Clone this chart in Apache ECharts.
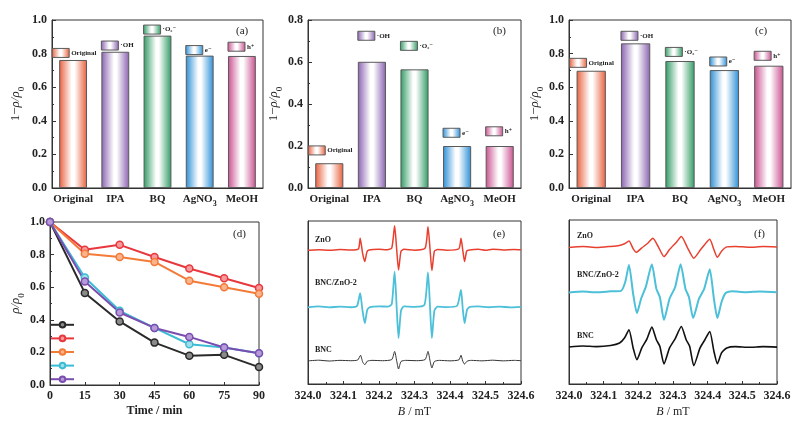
<!DOCTYPE html>
<html>
<head>
<meta charset="utf-8">
<script src="https://cdn.jsdelivr.net/npm/echarts@6/dist/echarts.min.js"></script>
<style>
  html, body { margin: 0; padding: 0; background: #fff; }
  #main { width: 809px; height: 426px; }
</style>
</head>
<body>
<div id="main"></div>
<script>
// bar panels (a)-(c)
const categories = ["Original", "IPA", "BQ", "AgNO3", "MeOH"];
const boxLabels = ["Original", "·OH", "·O₂⁻", "e⁻", "h⁺"];
const valuesA = [0.762, 0.811, 0.907, 0.788, 0.786];
const valuesB = [0.118, 0.601, 0.565, 0.2, 0.2];
const valuesC = [0.698, 0.861, 0.756, 0.702, 0.728];
// where the little legend boxes sit (y value of box centre)
const boxA = [0.804, 0.848, 0.943, 0.821, 0.841];
const boxB = [0.179, 0.725, 0.677, 0.263, 0.27];
const boxC = [0.745, 0.906, 0.81, 0.753, 0.787];

// panel (d): rho/rho0 vs time
const times = [0, 15, 30, 45, 60, 75, 90];
const lineBlack = [1.0, 0.565, 0.39, 0.26, 0.18, 0.185, 0.11];
const lineRed = [1.0, 0.83, 0.86, 0.785, 0.715, 0.655, 0.595];
const lineOrange = [1.0, 0.805, 0.785, 0.755, 0.64, 0.6, 0.56];
const lineCyan = [1.0, 0.66, 0.455, 0.35, 0.25, 0.23, 0.195];
const linePurple = [1.0, 0.635, 0.445, 0.35, 0.295, 0.23, 0.195];

// panel (e): EPR, DMPO-OH, [B (mT), intensity (a.u.)]
const eZnO = [[324.0,82.0],[324.03,82.4],[324.06,82.0],[324.09,82.5],[324.12,82.2],[324.142,82.8],[324.147,89.4],[324.154,80],[324.16,75.1],[324.166,81],[324.172,82.2],[324.2,82.6],[324.22,82.3],[324.236,83.5],[324.244,97.1],[324.25,82],[324.255,70],[324.262,81.5],[324.27,82.6],[324.3,82.1],[324.33,83.4],[324.338,96.5],[324.344,82],[324.349,69.6],[324.356,81.5],[324.365,82.5],[324.39,82.1],[324.425,83],[324.431,89.4],[324.436,82],[324.441,75.1],[324.447,81.5],[324.455,82.2],[324.48,82.6],[324.5,82.0],[324.52,82.7],[324.55,82.2],[324.58,82.5],[324.6,82.3]];
const eBNCZnO = [[324.0,47.0],[324.03,47.6],[324.06,47.0],[324.09,47.5],[324.12,47.1],[324.138,47.8],[324.147,55.7],[324.153,46],[324.16,37.3],[324.167,45.5],[324.175,47.2],[324.2,47.6],[324.225,47.5],[324.236,49],[324.244,69],[324.25,46],[324.255,28.2],[324.262,45],[324.27,47.6],[324.3,47.3],[324.328,48.5],[324.338,68.4],[324.344,46],[324.349,28.2],[324.356,45],[324.365,47.5],[324.39,47.2],[324.42,48],[324.431,57.8],[324.436,46],[324.441,37.3],[324.448,45.5],[324.456,47.3],[324.48,47.6],[324.51,47.1],[324.54,47.5],[324.57,47.0],[324.6,47.3]];
const eBNC = [[324.0,14.2],[324.03,14.6],[324.06,14.1],[324.09,14.5],[324.12,14.3],[324.14,14.7],[324.148,17.6],[324.154,13.5],[324.16,11.8],[324.167,14],[324.18,14.5],[324.21,14.3],[324.236,15],[324.244,20],[324.25,14],[324.255,9.2],[324.262,13.8],[324.275,14.5],[324.305,14.3],[324.33,15],[324.338,20],[324.344,14],[324.349,9.8],[324.356,13.8],[324.37,14.5],[324.4,14.2],[324.425,14.8],[324.431,17.6],[324.436,14],[324.441,12.2],[324.448,14],[324.46,14.5],[324.49,14.2],[324.52,14.6],[324.55,14.2],[324.58,14.5],[324.6,14.3]];

// panel (f): EPR, DMPO-O2-
const fZnO = [[324.0,83.3],[324.04,83.8],[324.08,83.2],[324.12,83.9],[324.145,84.5],[324.16,85.5],[324.173,87.2],[324.185,82.5],[324.194,80.3],[324.21,83],[324.228,86],[324.242,88.8],[324.258,83.5],[324.274,77.7],[324.29,82],[324.31,86.5],[324.324,89.9],[324.342,83],[324.36,76.7],[324.38,82],[324.395,86],[324.406,88.2],[324.418,82],[324.428,77.3],[324.44,81],[324.455,83.6],[324.48,83.9],[324.52,83.4],[324.56,83.8],[324.6,83.5]];
const fBNCZnO = [[324.0,55.8],[324.04,56.4],[324.08,55.9],[324.12,56.5],[324.15,56.8],[324.162,62],[324.173,72.6],[324.185,55],[324.196,43.2],[324.208,52],[324.222,59.5],[324.239,73],[324.252,58],[324.262,53],[324.274,39.1],[324.29,52],[324.306,59],[324.322,73],[324.336,58],[324.346,53],[324.358,40.2],[324.375,52],[324.39,58],[324.406,70],[324.418,52],[324.428,40.2],[324.44,50],[324.452,55.5],[324.47,56.5],[324.51,56],[324.55,56.4],[324.6,56]];
const fBNC = [[324.0,22.6],[324.04,23.2],[324.08,22.8],[324.12,23.5],[324.146,25],[324.16,28],[324.173,33.1],[324.185,22],[324.196,14.8],[324.21,22],[324.225,27.5],[324.239,34.7],[324.252,27],[324.262,23],[324.274,12.2],[324.29,22],[324.306,27.5],[324.324,35.1],[324.338,27],[324.348,23],[324.36,11.2],[324.378,22],[324.392,27],[324.406,32],[324.418,20],[324.428,12.4],[324.44,19],[324.455,22],[324.48,22.8],[324.52,22.4],[324.56,22.8],[324.6,22.5]];

const serif = '"Liberation Serif", "DejaVu Serif", serif';
const barColors = ["#e8603c", "#8a62b0", "#2f9b63", "#2c8fd6", "#c9508f"];
const txt = "#222";

function barGrad(c) {
  return new echarts.graphic.LinearGradient(0, 0, 1, 0, [
    { offset: 0, color: c },
    { offset: 0.45, color: "#ffffff" },
    { offset: 0.55, color: "#ffffff" },
    { offset: 1, color: c }
  ]);
}

const subRich = {
  s: { fontSize: 8, fontFamily: serif, fontWeight: "bold", color: txt, verticalAlign: "bottom", lineHeight: 8, padding: [0, 0, -3, 0] }
};

function catAxis(g) {
  return {
    type: "category", gridIndex: g, data: categories,
    axisLine: { lineStyle: { color: "#333" } },
    axisTick: { inside: true, alignWithLabel: true, length: 3, lineStyle: { color: "#333" } },
    axisLabel: {
      interval: 0, hideOverlap: false,
      color: txt, fontFamily: serif, fontWeight: "bold", fontSize: 11, margin: 6,
      formatter: v => v === "AgNO3" ? "AgNO{s|3}" : v,
      rich: subRich
    }
  };
}

const yNameRich = {
  t: { fontSize: 13, fontFamily: serif, color: txt },
  i: { fontSize: 13, fontFamily: serif, fontStyle: "italic", color: txt },
  s: { fontSize: 9, fontFamily: serif, color: txt, verticalAlign: "bottom", lineHeight: 9, padding: [0, 0, -4, 0] }
};

function valAxisY(g, max, name, gap) {
  return {
    type: "value", gridIndex: g, min: 0, max: max, interval: 0.2,
    name: name, nameLocation: "middle", nameGap: gap,
    nameTextStyle: { rich: yNameRich },
    axisLine: { show: true, lineStyle: { color: "#333" } },
    axisTick: { show: true, inside: true, length: 4, lineStyle: { color: "#333" } },
    minorTick: { show: true, splitNumber: 2, length: 2, lineStyle: { color: "#333" } },
    splitLine: { show: false },
    axisLabel: { color: txt, fontFamily: serif, fontWeight: "bold", fontSize: 12, margin: 5, formatter: v => v.toFixed(1) }
  };
}

function eprX(g) {
  return {
    type: "value", gridIndex: g, min: 324.0, max: 324.6, interval: 0.1,
    name: "{i|B} / mT", nameLocation: "middle", nameGap: 22,
    nameTextStyle: { rich: {
      i: { fontSize: 12, fontFamily: serif, fontStyle: "italic", color: txt },
      t: { fontSize: 12, fontFamily: serif, color: txt }
    }, fontSize: 12, fontFamily: serif, color: txt },
    axisLine: { lineStyle: { color: "#333" } },
    axisTick: { inside: true, length: 3, lineStyle: { color: "#333" } },
    minorTick: { show: true, splitNumber: 2, length: 2, lineStyle: { color: "#333" } },
    splitLine: { show: false },
    axisLabel: { color: txt, fontFamily: serif, fontWeight: "bold", fontSize: 12, margin: 6, formatter: v => v.toFixed(1) }
  };
}

function eprY(g) {
  return {
    type: "value", gridIndex: g, min: 0, max: 100,
    axisLine: { show: true, lineStyle: { color: "#333" } },
    axisTick: { show: false }, axisLabel: { show: false }, splitLine: { show: false }
  };
}

function barSeries(g, vals) {
  return {
    type: "bar", xAxisIndex: g, yAxisIndex: g, barWidth: "66%",
    data: vals.map((v, i) => ({
      value: v,
      itemStyle: { color: barGrad(barColors[i]), borderColor: "#5a5a5a", borderWidth: 1 }
    }))
  };
}

function boxSeries(g, boxes) {
  return {
    type: "custom", xAxisIndex: g, yAxisIndex: g, z: 5,
    data: boxes.map((v, i) => [i, v]),
    renderItem: (params, api) => {
      const idx = api.value(0);
      const p = api.coord([idx, api.value(1)]);
      const bw = api.size([1, 0])[0] * 0.66;
      const x0 = p[0] - bw / 2 - (idx === 0 ? 7 : 0);
      return {
        type: "group",
        children: [
          { type: "rect", shape: { x: x0, y: p[1] - 4.5, width: 17, height: 9 },
            style: { fill: barGrad(barColors[idx]), stroke: "#5a5a5a", lineWidth: 1 } },
          { type: "text", style: { x: x0 + 19, y: p[1], text: boxLabels[idx], verticalAlign: "middle",
            font: 'bold 7px "Liberation Serif", "DejaVu Serif", serif', fill: txt } }
        ]
      };
    }
  };
}

const lineColors = ["#2a2a2a", "#e8383d", "#f47a38", "#3cbcd4", "#7a4db0"];
const lineFills = ["#8a8a8a", "#f59a9c", "#f9b48c", "#9ee0ea", "#b79ad8"];
const lineSets = [lineBlack, lineRed, lineOrange, lineCyan, linePurple];
const lineNames = ["L1", "L2", "L3", "L4", "L5"];

function lineSeries(i) {
  return {
    type: "line", name: lineNames[i], xAxisIndex: 3, yAxisIndex: 3,
    data: times.map((t, k) => [t, lineSets[i][k]]),
    symbol: "circle", symbolSize: 7,
    lineStyle: { color: lineColors[i], width: 2 },
    itemStyle: { color: lineFills[i], borderColor: lineColors[i], borderWidth: 1.5 }
  };
}

function eprSeries(g, data, color, width) {
  return {
    type: "line", xAxisIndex: g, yAxisIndex: g, data: data, symbol: "none",
    smooth: 0.2, lineStyle: { color: color, width: width }
  };
}

function label(x, y, text, size, weight) {
  return { type: "text", left: x, top: y,
    style: { text: text, fill: txt, font: (weight || "normal") + " " + size + "px " + serif } };
}

const gridBase = { show: true, borderColor: "#333", borderWidth: 1, backgroundColor: "transparent" };

const option = {
  animation: false,
  grid: [
    Object.assign({ left: 52, top: 20, width: 211, height: 168 }, gridBase),
    Object.assign({ left: 308, top: 20, width: 213, height: 168 }, gridBase),
    Object.assign({ left: 569, top: 20, width: 222, height: 168 }, gridBase),
    Object.assign({ left: 50, top: 222, width: 209, height: 163 }, gridBase),
    Object.assign({ left: 308, top: 221, width: 213, height: 163 }, gridBase),
    Object.assign({ left: 569, top: 220, width: 208, height: 164 }, gridBase)
  ],
  xAxis: [
    catAxis(0), catAxis(1), catAxis(2),
    {
      type: "value", gridIndex: 3, min: 0, max: 90, interval: 15,
      name: "Time / min", nameLocation: "middle", nameGap: 20,
      nameTextStyle: { fontFamily: serif, fontWeight: "bold", fontSize: 12, color: txt },
      axisLine: { lineStyle: { color: "#333" } },
      axisTick: { inside: true, length: 3, lineStyle: { color: "#333" } },
      splitLine: { show: false },
      axisLabel: { color: txt, fontFamily: serif, fontWeight: "bold", fontSize: 12, margin: 5 }
    },
    eprX(4), eprX(5)
  ],
  yAxis: [
    valAxisY(0, 1.0, "{t|1−}{i|ρ/ρ}{s|0}", 30),
    valAxisY(1, 0.8, "{t|1−}{i|ρ/ρ}{s|0}", 22),
    valAxisY(2, 1.0, "{t|1−}{i|ρ/ρ}{s|0}", 22),
    valAxisY(3, 1.0, "{i|ρ/ρ}{s|0}", 22),
    eprY(4), eprY(5)
  ],
  legend: {
    data: lineNames, orient: "vertical", left: 50, top: 321,
    itemWidth: 23, itemHeight: 7, itemGap: 6, padding: 0,
    formatter: () => "", textStyle: { fontSize: 1 }
  },
  series: [
    barSeries(0, valuesA), barSeries(1, valuesB), barSeries(2, valuesC),
    boxSeries(0, boxA), boxSeries(1, boxB), boxSeries(2, boxC),
    lineSeries(0), lineSeries(1), lineSeries(2), lineSeries(3), lineSeries(4),
    eprSeries(4, eZnO, "#e8402f", 1.5),
    eprSeries(4, eBNCZnO, "#4cc0d8", 1.8),
    eprSeries(4, eBNC, "#333", 1),
    eprSeries(5, fZnO, "#e8402f", 1.5),
    eprSeries(5, fBNCZnO, "#4cc0d8", 2),
    eprSeries(5, fBNC, "#111", 1.6)
  ],
  graphic: [
    label(236, 26, "(a)", 11), label(493, 26, "(b)", 11), label(755, 26, "(c)", 11),
    label(233, 229, "(d)", 11), label(493, 229, "(e)", 11), label(754, 229, "(f)", 11),
    label(315, 236, "ZnO", 8, "bold"), label(315, 279, "BNC/ZnO-2", 8, "bold"), label(315, 346, "BNC", 8, "bold"),
    label(577, 232, "ZnO", 8, "bold"), label(577, 271, "BNC/ZnO-2", 8, "bold"), label(577, 332, "BNC", 8, "bold")
  ]
};

const chart = echarts.init(document.getElementById("main"));
chart.setOption(option);
</script>
</body>
</html>
